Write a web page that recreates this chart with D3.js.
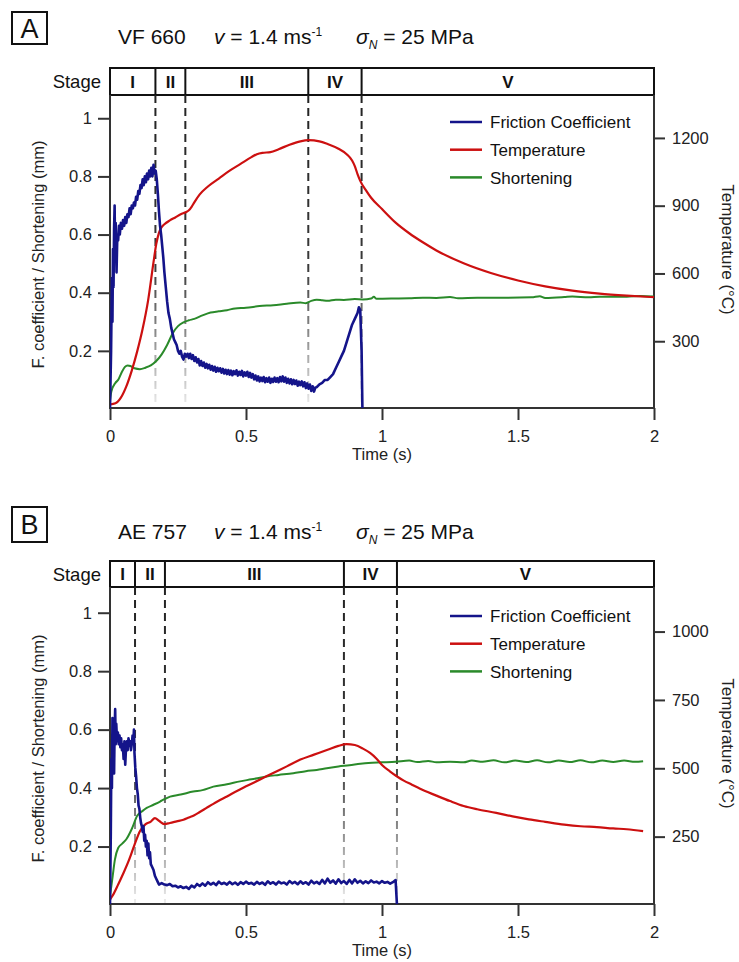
<!DOCTYPE html>
<html>
<head>
<meta charset="utf-8">
<script src="https://cdn.jsdelivr.net/npm/d3@7"></script>
<style>
  body { margin: 0; background: #fff; }
  svg { display: block; font-family: "Liberation Sans", Arial, sans-serif; }
  .axis line { stroke: #333; stroke-width: 2; }
  .axis text { fill: #222; font-size: 16.5px; }
</style>
</head>
<body>
<svg id="chart" width="739" height="962"></svg>
<script>
// ---- data ----
const stageLabels = ["I", "II", "III", "IV", "V"];
const stageBreaksA = [0.167, 0.277, 0.729, 0.925];
const stageBreaksB = [0.092, 0.202, 0.86, 1.055];

const timeTicks = [0, 0.5, 1, 1.5, 2];
const leftTicks = [0.2, 0.4, 0.6, 0.8, 1];
const tempTicksA = [300, 600, 900, 1200];
const tempTicksB = [250, 500, 750, 1000];

const legendNames = ["Friction Coefficient", "Temperature", "Shortening"];

// Panel A (VF 660)
const timeFricA = [0, 0.004, 0.007, 0.009, 0.011, 0.013, 0.015, 0.017, 0.019, 0.021, 0.024, 0.027, 0.03, 0.033, 0.036,
  0.04, 0.044, 0.048, 0.052, 0.056, 0.06, 0.064, 0.068, 0.072, 0.076, 0.08, 0.084, 0.088, 0.092, 0.096, 0.1, 0.104,
  0.108, 0.112, 0.116, 0.12, 0.124, 0.128, 0.132, 0.136, 0.14, 0.144, 0.148, 0.152, 0.156, 0.16, 0.164, 0.168, 0.172,
  0.176, 0.18, 0.184, 0.188, 0.192, 0.196, 0.2, 0.205, 0.21, 0.215, 0.22, 0.225, 0.23, 0.235, 0.24, 0.245, 0.25, 0.255,
  0.26, 0.265, 0.27, 0.275, 0.28, 0.285,
  0.29, 0.295, 0.3, 0.305, 0.31, 0.315, 0.32, 0.325, 0.33, 0.335, 0.34, 0.345, 0.35, 0.355, 0.36, 0.365, 0.37, 0.375,
  0.38, 0.385, 0.39, 0.395, 0.4, 0.405, 0.41, 0.415, 0.42, 0.425, 0.43, 0.435, 0.44, 0.445, 0.45, 0.455, 0.46, 0.465,
  0.47, 0.475, 0.48, 0.485, 0.49, 0.495, 0.5, 0.505, 0.51, 0.515, 0.52, 0.525, 0.53, 0.535, 0.54, 0.545, 0.55, 0.555,
  0.56, 0.565, 0.57, 0.575, 0.58, 0.585, 0.59, 0.595, 0.6, 0.605, 0.61, 0.615, 0.62, 0.625, 0.63, 0.635, 0.64, 0.645,
  0.65, 0.655, 0.66, 0.665, 0.67, 0.675, 0.68, 0.685, 0.69, 0.695, 0.7, 0.705, 0.71, 0.715, 0.72, 0.725, 0.73, 0.735,
  0.74, 0.745, 0.75, 0.755, 0.76,
  0.77, 0.78, 0.79, 0.8, 0.81, 0.82, 0.83, 0.84, 0.85, 0.86, 0.87, 0.88, 0.89, 0.9, 0.91, 0.915, 0.92, 0.925, 0.928];
const fricA = [0, 0.2, 0.45, 0.3, 0.55, 0.42, 0.62, 0.7, 0.52, 0.64, 0.47, 0.6, 0.58, 0.63, 0.6,
  0.64, 0.62, 0.65, 0.63, 0.66, 0.64, 0.67, 0.66, 0.69, 0.67, 0.7, 0.69, 0.71, 0.7, 0.73, 0.72, 0.75,
  0.74, 0.77, 0.76, 0.79, 0.77, 0.8, 0.78, 0.81, 0.79, 0.82, 0.8, 0.83, 0.8, 0.84, 0.81, 0.82, 0.79,
  0.74, 0.68, 0.63, 0.6, 0.56, 0.52, 0.47, 0.42, 0.37, 0.33, 0.31, 0.28, 0.26, 0.24, 0.23, 0.22, 0.2, 0.19,
  0.2, 0.18, 0.17, 0.19, 0.18, 0.19,
  0.175, 0.19, 0.172, 0.185, 0.165, 0.178, 0.16, 0.172, 0.15, 0.165, 0.148, 0.16, 0.142, 0.155, 0.14, 0.152, 0.135, 0.148,
  0.132, 0.145, 0.128, 0.142, 0.13, 0.14, 0.125, 0.138, 0.122, 0.135, 0.12, 0.134, 0.118, 0.132, 0.116, 0.13, 0.12, 0.133,
  0.115, 0.128, 0.117, 0.131, 0.112, 0.126, 0.115, 0.128, 0.11, 0.124, 0.108, 0.12, 0.102, 0.115, 0.098, 0.112, 0.095, 0.108,
  0.096, 0.11, 0.092, 0.106, 0.094, 0.108, 0.09, 0.104, 0.093, 0.108, 0.094, 0.106, 0.092, 0.11, 0.095, 0.112, 0.094, 0.108,
  0.09, 0.104, 0.088, 0.102, 0.085, 0.1, 0.086, 0.098, 0.08, 0.094, 0.082, 0.095, 0.078, 0.092, 0.072, 0.088, 0.07, 0.084,
  0.062, 0.078, 0.06, 0.074, 0.075,
  0.085, 0.09, 0.1, 0.1, 0.11, 0.12, 0.14, 0.16, 0.18, 0.2, 0.23, 0.26, 0.29, 0.31, 0.33, 0.35, 0.34, 0.2, 0];

const timeTempA = [0, 0.02, 0.04, 0.06, 0.08, 0.1, 0.12, 0.14, 0.16, 0.17, 0.18, 0.19, 0.2, 0.22, 0.24, 0.26, 0.28,
  0.29, 0.3, 0.31, 0.33, 0.36, 0.4, 0.44, 0.48, 0.52, 0.54, 0.56, 0.59, 0.62, 0.66, 0.7, 0.73, 0.77, 0.8, 0.84, 0.87,
  0.89, 0.9, 0.91, 0.92, 0.94, 0.96, 1, 1.05, 1.1, 1.15, 1.2, 1.3, 1.4, 1.5, 1.6, 1.7, 1.8, 1.9, 2];
const tempA = [20, 25, 50, 100, 170, 255, 355, 480, 650, 730, 780, 805, 818, 835, 848, 862, 872,
  880, 895, 915, 950, 985, 1020, 1055, 1085, 1115, 1128, 1134, 1137, 1150, 1170, 1185, 1190, 1185, 1173, 1152, 1128,
  1100, 1075, 1040, 1010, 970, 935, 885, 825, 778, 738, 702, 645, 602, 569, 543, 524, 511, 502, 495];

const timeShortA = [0, 0.005, 0.02, 0.03, 0.045, 0.055, 0.065, 0.075, 0.09, 0.11, 0.13, 0.15, 0.17, 0.19, 0.21, 0.23,
  0.25, 0.27, 0.29, 0.31, 0.34, 0.37, 0.4, 0.43, 0.46, 0.5, 0.55, 0.6, 0.65, 0.7, 0.72, 0.74, 0.76, 0.78, 0.8, 0.83,
  0.86, 0.9, 0.93, 0.96, 0.97, 0.98, 1.05, 1.1, 1.15, 1.2, 1.25, 1.28, 1.35, 1.45, 1.55, 1.58, 1.6, 1.67, 1.7, 1.76,
  1.8, 1.9, 1.95, 2];
const shortA = [0.03, 0.06, 0.09, 0.1, 0.13, 0.145, 0.15, 0.148, 0.14, 0.137, 0.142, 0.15, 0.165, 0.188, 0.22, 0.26,
  0.285, 0.298, 0.305, 0.31, 0.322, 0.332, 0.336, 0.34, 0.346, 0.348, 0.354, 0.357, 0.362, 0.366, 0.364, 0.372, 0.376,
  0.374, 0.372, 0.376, 0.375, 0.378, 0.377, 0.38, 0.386, 0.379, 0.38, 0.381, 0.383, 0.382, 0.385, 0.381, 0.383,
  0.383, 0.384, 0.388, 0.382, 0.385, 0.387, 0.384, 0.386, 0.386, 0.389, 0.387];

// Panel B (AE 757)
const timeFricB = [0, 0.003, 0.005, 0.007, 0.009, 0.011, 0.013, 0.015, 0.017, 0.019, 0.021, 0.023, 0.026, 0.029,
  0.032, 0.035, 0.038, 0.041, 0.044, 0.047, 0.05, 0.053, 0.056, 0.059, 0.062, 0.065, 0.068, 0.071, 0.074, 0.077,
  0.08, 0.083, 0.086, 0.088, 0.09, 0.093, 0.096, 0.099, 0.102, 0.105, 0.108, 0.111, 0.114, 0.117, 0.12, 0.123, 0.126,
  0.129, 0.132, 0.135, 0.138, 0.141, 0.144, 0.147, 0.15, 0.155, 0.16, 0.165, 0.17, 0.175, 0.18,
  0.19, 0.2, 0.21, 0.22, 0.23, 0.24, 0.25, 0.26, 0.27, 0.28, 0.29, 0.3, 0.31, 0.32, 0.33, 0.34, 0.35, 0.36, 0.37,
  0.38, 0.39, 0.4, 0.41, 0.42, 0.43, 0.44, 0.45, 0.46, 0.47, 0.48, 0.49, 0.5, 0.51, 0.52, 0.53, 0.54, 0.55, 0.56,
  0.57, 0.58, 0.59, 0.6, 0.61, 0.62, 0.63, 0.64, 0.65, 0.66, 0.67, 0.68, 0.69, 0.7, 0.71, 0.72, 0.73, 0.74, 0.75,
  0.76, 0.77, 0.78, 0.79, 0.8, 0.81, 0.82, 0.83, 0.84, 0.85, 0.86, 0.87, 0.88, 0.89, 0.9, 0.91, 0.92, 0.93, 0.94,
  0.95, 0.96, 0.97, 0.98, 0.99, 1, 1.01, 1.02, 1.03, 1.04, 1.05, 1.055, 1.056];
const fricB = [0, 0.25, 0.5, 0.4, 0.64, 0.58, 0.62, 0.45, 0.6, 0.67, 0.55, 0.62, 0.56, 0.59,
  0.55, 0.58, 0.54, 0.57, 0.53, 0.55, 0.5, 0.56, 0.48, 0.54, 0.56, 0.53, 0.57, 0.55, 0.56, 0.53,
  0.55, 0.58, 0.56, 0.6, 0.52, 0.47, 0.44, 0.4, 0.38, 0.34, 0.33, 0.3, 0.28, 0.27, 0.25, 0.27, 0.22,
  0.24, 0.2, 0.22, 0.17, 0.21, 0.16, 0.18, 0.14, 0.13, 0.12, 0.1, 0.09, 0.08, 0.07,
  0.075, 0.07, 0.068, 0.072, 0.064, 0.066, 0.06, 0.064, 0.058, 0.062, 0.055, 0.066, 0.06, 0.072, 0.065, 0.074, 0.066,
  0.078, 0.07, 0.076, 0.068, 0.08, 0.072, 0.076, 0.07, 0.079, 0.071, 0.077, 0.069, 0.078, 0.072, 0.08, 0.073, 0.076,
  0.07, 0.079, 0.072, 0.077, 0.069, 0.081, 0.073, 0.078, 0.07, 0.08, 0.074, 0.077, 0.07, 0.082, 0.074, 0.079, 0.071,
  0.081, 0.073, 0.078, 0.07, 0.083, 0.074, 0.079, 0.072, 0.086, 0.074, 0.09, 0.076, 0.084, 0.073, 0.088, 0.075,
  0.082, 0.072, 0.086, 0.074, 0.088, 0.076, 0.083, 0.074, 0.081, 0.075, 0.084, 0.077, 0.08, 0.074, 0.082, 0.076,
  0.079, 0.073, 0.078, 0.085, 0];

const timeTempB = [0, 0.01, 0.03, 0.05, 0.07, 0.09, 0.11, 0.13, 0.15, 0.165, 0.18, 0.2, 0.22, 0.245, 0.27, 0.29, 0.31,
  0.33, 0.355, 0.38, 0.43, 0.5, 0.55, 0.6, 0.65, 0.7, 0.75, 0.8, 0.84, 0.87, 0.9, 0.93, 0.956, 0.98, 1, 1.03, 1.054,
  1.08, 1.11, 1.14, 1.2, 1.25, 1.3, 1.35, 1.42, 1.48, 1.54, 1.6, 1.67, 1.73, 1.79, 1.85, 1.9, 1.96];
const tempB = [20, 35, 75, 118, 165, 220, 270, 295, 305, 318, 308, 296, 300, 306, 312, 320, 328,
  340, 355, 370, 397, 434, 458, 483, 507, 532, 550, 568, 582, 588, 585, 572, 556, 535, 512, 488, 471,
  455, 440, 425, 400, 380, 362, 350, 337, 324, 313, 304, 294, 288, 285, 280, 277, 270];

const timeShortB = [0, 0.01, 0.018, 0.03, 0.045, 0.06, 0.08, 0.1, 0.12, 0.135, 0.16, 0.184, 0.2, 0.221, 0.26, 0.306,
  0.34, 0.38, 0.43, 0.478, 0.52, 0.576, 0.62, 0.674, 0.72, 0.76, 0.797, 0.84, 0.88, 0.92, 0.95, 1, 1.05, 1.1, 1.13,
  1.17, 1.2, 1.25, 1.3, 1.33, 1.37, 1.41, 1.45, 1.49, 1.53, 1.57, 1.61, 1.65, 1.69, 1.73, 1.77, 1.81, 1.85, 1.89,
  1.93, 1.96];
const shortB = [0.03, 0.1, 0.155, 0.195, 0.21, 0.225, 0.26, 0.305, 0.322, 0.332, 0.343, 0.354, 0.362, 0.371, 0.378,
  0.388, 0.393, 0.405, 0.413, 0.423, 0.43, 0.44, 0.445, 0.451, 0.458, 0.462, 0.468, 0.474, 0.478, 0.483, 0.486, 0.488,
  0.49, 0.494, 0.489, 0.493, 0.488, 0.49, 0.488, 0.494, 0.49, 0.495, 0.488, 0.494, 0.489, 0.495, 0.488, 0.494, 0.489,
  0.495, 0.488, 0.494, 0.489, 0.494, 0.49, 0.492];

const colors = { friction: "#14148a", temperature: "#cc1010", shortening: "#2a8a2a" };

class StagePanel {
  constructor({ svg, id, geom, letter, sample, stageBreaks, fricMax, tempMax, tempTicks, series }) {
    this.svg = svg;
    this.id = id;
    this.geom = geom;
    this.letter = letter;
    this.sample = sample;
    this.stageBreaks = stageBreaks;
    this.fricMax = fricMax;
    this.tempMax = tempMax;
    this.tempTicks = tempTicks;
    this.series = series;
    this.margin = { left: 110, right: 654 };
    this.init();
  }

  init() {
    this.setup();
    this.scaffold();
    this.render();
  }

  setup() {
    const g = this.geom;
    this.x = d3.scaleLinear().domain([0, 2]).range([this.margin.left, this.margin.right]);
    this.yLeft = d3.scaleLinear().domain([0, this.fricMax]).range([g.yZero, g.plotTop]);
    this.yRight = d3.scaleLinear().domain([0, this.tempMax]).range([g.yZero, g.plotTop]);
  }

  scaffold() {
    const g = this.geom;
    this.root = this.svg.append("g").attr("class", "panel panel-" + this.id);
    const defs = this.root.append("defs");
    defs.append("clipPath")
      .attr("id", "clip-" + this.id)
      .append("rect")
      .attr("x", this.margin.left)
      .attr("y", g.plotTop)
      .attr("width", this.margin.right - this.margin.left)
      .attr("height", g.plotBottom - g.plotTop);

    const grad = defs.append("linearGradient")
      .attr("id", "fade-" + this.id)
      .attr("gradientUnits", "userSpaceOnUse")
      .attr("x1", 0).attr("x2", 0)
      .attr("y1", g.plotTop).attr("y2", g.plotBottom);
    [[0, "#222"], [0.55, "#3a3a3a"], [0.8, "#999"], [1, "#eeeeee"]].forEach(([o, c]) =>
      grad.append("stop").attr("offset", o).attr("stop-color", c));
  }

  render() {
    this.renderHeader();
    this.renderStages();
    this.renderAxes();
    this.renderLines();
    this.renderLegend();
  }

  renderHeader() {
    const g = this.geom;
    this.root.append("rect")
      .attr("x", 12).attr("y", g.boxY)
      .attr("width", 35).attr("height", g.boxH)
      .attr("fill", "none").attr("stroke", "#111").attr("stroke-width", 2);
    this.root.append("text")
      .attr("x", 29.5).attr("y", g.boxY + g.boxH / 2)
      .attr("dy", "0.36em")
      .attr("text-anchor", "middle")
      .attr("font-size", 27)
      .attr("fill", "#111")
      .text(this.letter);

    const title = this.root.append("text")
      .attr("y", g.titleY)
      .attr("font-size", 21)
      .attr("fill", "#111");
    title.append("tspan").attr("x", 118).text(this.sample);
    title.append("tspan").attr("x", 214).attr("font-style", "italic").text("v");
    title.append("tspan").text(" = 1.4 ms");
    title.append("tspan").attr("font-size", 12).attr("dy", -8).text("-1");
    title.append("tspan").attr("x", 356).attr("dy", 8).attr("font-style", "italic").text("σ");
    title.append("tspan").attr("font-size", 12).attr("dy", 5).attr("font-style", "italic").text("N");
    title.append("tspan").attr("dy", -5).text(" = 25 MPa");
  }

  renderStages() {
    const g = this.geom;
    const edges = [0, ...this.stageBreaks, 2];
    const bar = this.root.append("g").attr("class", "stage-bar");

    bar.append("text")
      .attr("x", 101)
      .attr("y", (g.stageTop + g.plotTop) / 2)
      .attr("dy", "0.36em")
      .attr("text-anchor", "end")
      .attr("font-size", 18.5)
      .attr("fill", "#111")
      .text("Stage");

    bar.selectAll(".stage-label")
      .data(stageLabels)
      .join("text")
      .attr("class", "stage-label")
      .attr("x", (d, i) => (this.x(edges[i]) + this.x(edges[i + 1])) / 2)
      .attr("y", (g.stageTop + g.plotTop) / 2)
      .attr("dy", "0.36em")
      .attr("text-anchor", "middle")
      .attr("font-size", 17)
      .attr("font-weight", "bold")
      .attr("fill", "#111")
      .text((d) => d);

    // dashed stage boundaries, fading towards the time axis
    this.root.append("g")
      .selectAll("line")
      .data(this.stageBreaks)
      .join("line")
      .attr("x1", (d) => this.x(d)).attr("x2", (d) => this.x(d))
      .attr("y1", g.plotTop).attr("y2", g.plotBottom)
      .attr("stroke", `url(#fade-${this.id})`)
      .attr("stroke-width", 2)
      .attr("stroke-dasharray", "8,5");

    bar.selectAll(".stage-div")
      .data(this.stageBreaks)
      .join("line")
      .attr("class", "stage-div")
      .attr("x1", (d) => this.x(d)).attr("x2", (d) => this.x(d))
      .attr("y1", g.stageTop).attr("y2", g.plotTop)
      .attr("stroke", "#111")
      .attr("stroke-width", 2);

    bar.append("rect")
      .attr("x", this.margin.left)
      .attr("y", g.stageTop)
      .attr("width", this.margin.right - this.margin.left)
      .attr("height", g.plotTop - g.stageTop)
      .attr("fill", "none")
      .attr("stroke", "#111")
      .attr("stroke-width", 2);
  }

  renderAxes() {
    const g = this.geom;

    const xAxis = this.root.append("g")
      .attr("class", "axis")
      .attr("transform", `translate(0,${g.plotBottom})`)
      .call(d3.axisBottom(this.x).tickValues(timeTicks).tickSize(12).tickPadding(10).tickFormat((d) => String(d)));
    xAxis.select(".domain").remove();

    const yAxis = this.root.append("g")
      .attr("class", "axis")
      .attr("transform", `translate(${this.margin.left},0)`)
      .call(d3.axisLeft(this.yLeft).tickValues(leftTicks).tickSize(12).tickPadding(6).tickFormat((d) => String(d)));
    yAxis.select(".domain").remove();

    const rAxis = this.root.append("g")
      .attr("class", "axis")
      .attr("transform", `translate(${this.margin.right},0)`)
      .call(d3.axisRight(this.yRight).tickValues(this.tempTicks).tickSize(11).tickPadding(7).tickFormat(d3.format("d")));
    rAxis.select(".domain").remove();

    const frame = this.root.append("g").attr("stroke", "#333").attr("stroke-width", 2);
    frame.append("line")
      .attr("x1", this.margin.left - 1).attr("x2", this.margin.right + 1)
      .attr("y1", g.plotBottom).attr("y2", g.plotBottom);
    frame.append("line")
      .attr("x1", this.margin.left).attr("x2", this.margin.left)
      .attr("y1", g.plotTop).attr("y2", g.plotBottom);
    frame.append("line")
      .attr("x1", this.margin.right).attr("x2", this.margin.right)
      .attr("y1", g.plotTop).attr("y2", g.plotBottom);

    this.root.append("text")
      .attr("x", this.x(1))
      .attr("y", g.plotBottom + g.timeLabelOffset)
      .attr("text-anchor", "middle")
      .attr("font-size", 16.5)
      .attr("fill", "#222")
      .text("Time (s)");

    const midY = (g.plotTop + g.plotBottom) / 2;
    this.root.append("text")
      .attr("transform", `translate(44,${midY + 3}) rotate(-90)`)
      .attr("text-anchor", "middle")
      .attr("font-size", 16.5)
      .attr("fill", "#222")
      .text("F. coefficient / Shortening (mm)");

    this.root.append("text")
      .attr("transform", `translate(722,${midY - 2}) rotate(90)`)
      .attr("text-anchor", "middle")
      .attr("font-size", 17)
      .attr("fill", "#222")
      .text("Temperature (°C)");
  }

  renderLines() {
    const plot = this.root.append("g").attr("clip-path", `url(#clip-${this.id})`);
    const s = this.series;

    const leftLine = d3.line().x((d) => this.x(d[0])).y((d) => this.yLeft(d[1]));
    const rightLine = d3.line().x((d) => this.x(d[0])).y((d) => this.yRight(d[1]));

    plot.append("path")
      .datum(d3.zip(s.shortT, s.short))
      .attr("fill", "none")
      .attr("stroke", colors.shortening)
      .attr("stroke-width", 2)
      .attr("stroke-linejoin", "round")
      .attr("d", leftLine.curve(d3.curveMonotoneX));

    plot.append("path")
      .datum(d3.zip(s.tempT, s.temp))
      .attr("fill", "none")
      .attr("stroke", colors.temperature)
      .attr("stroke-width", 2.2)
      .attr("d", rightLine.curve(d3.curveMonotoneX));

    plot.append("path")
      .datum(d3.zip(s.fricT, s.fric))
      .attr("fill", "none")
      .attr("stroke", colors.friction)
      .attr("stroke-width", 2.6)
      .attr("stroke-linejoin", "round")
      .attr("d", leftLine.curve(d3.curveLinear));
  }

  renderLegend() {
    const g = this.geom;
    const items = [colors.friction, colors.temperature, colors.shortening];
    const legend = this.root.append("g")
      .attr("class", "legend")
      .selectAll("g")
      .data(legendNames)
      .join("g")
      .attr("transform", (d, i) => `translate(450,${g.legendTop + i * 27.7})`);
    legend.append("line")
      .attr("x1", 0).attr("x2", 32)
      .attr("stroke", (d, i) => items[i])
      .attr("stroke-width", 2.5);
    legend.append("text")
      .attr("x", 40)
      .attr("dy", "0.36em")
      .attr("font-size", 17)
      .attr("fill", "#111")
      .text((d) => d);
  }
}

const svg = d3.select("#chart");

new StagePanel({
  svg,
  id: "a",
  geom: { boxY: 12, boxH: 32, titleY: 44, stageTop: 68, plotTop: 95, plotBottom: 408, yZero: 409,
    legendTop: 122, timeLabelOffset: 52 },
  letter: "A",
  sample: "VF 660",
  stageBreaks: stageBreaksA,
  fricMax: 1.08,
  tempMax: 1390,
  tempTicks: tempTicksA,
  series: { fricT: timeFricA, fric: fricA, tempT: timeTempA, temp: tempA, shortT: timeShortA, short: shortA },
});

new StagePanel({
  svg,
  id: "b",
  geom: { boxY: 507, boxH: 35, titleY: 539, stageTop: 561, plotTop: 587, plotBottom: 904, yZero: 905,
    legendTop: 616, timeLabelOffset: 52 },
  letter: "B",
  sample: "AE 757",
  stageBreaks: stageBreaksB,
  fricMax: 1.088,
  tempMax: 1163,
  tempTicks: tempTicksB,
  series: { fricT: timeFricB, fric: fricB, tempT: timeTempB, temp: tempB, shortT: timeShortB, short: shortB },
});
</script>
</body>
</html>
